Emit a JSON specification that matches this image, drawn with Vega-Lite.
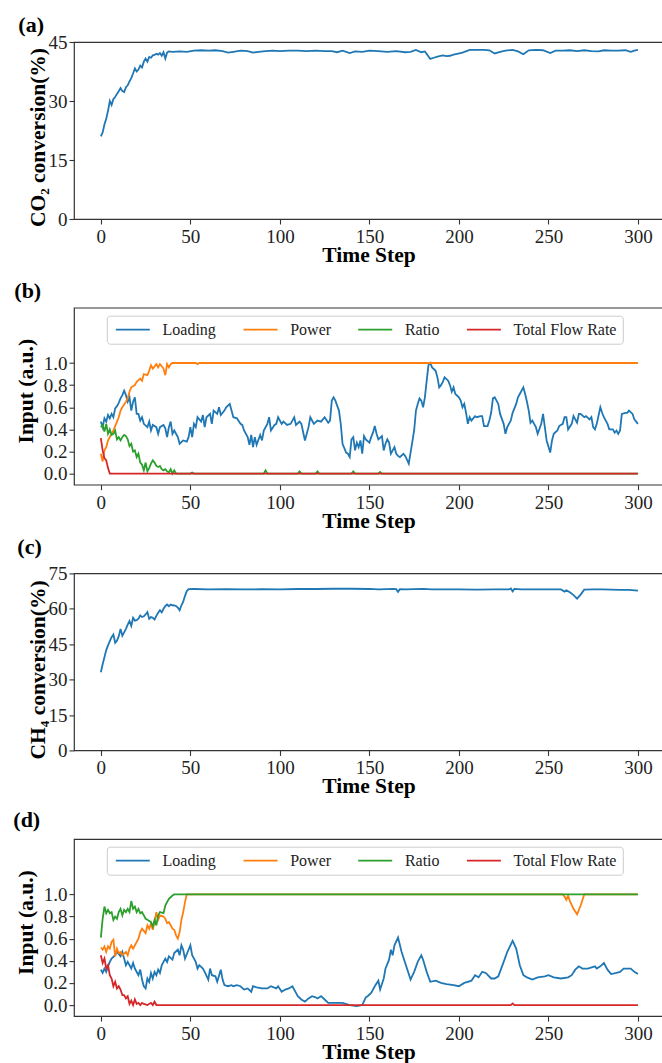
{
  "$schema": "https://vega.github.io/schema/vega-lite/v6.json",
  "background": "white",
  "padding": {"left": 12, "top": 13, "right": 0, "bottom": 0},
  "config": {
    "font": "Liberation Serif",
    "view": {"stroke": "#333333", "strokeWidth": 1.2},
    "axis": {"domain": false, "grid": false, "tickColor": "#333333", "tickSize": 5, "tickWidth": 1.1, "labelFont": "Liberation Serif", "labelFontSize": 19, "labelColor": "#222222", "labelOverlap": false, "titleFont": "Liberation Serif", "titleFontSize": 21.5, "titleFontWeight": "bold", "titleColor": "#000000"},
    "title": {"font": "Liberation Serif", "fontSize": 22, "fontWeight": "bold", "anchor": "start", "frame": "group", "baseline": "alphabetic", "color": "#000000"},
    "line": {"strokeWidth": 1.8}
  },
  "resolve": {"scale": {"color": "independent"}, "legend": {"color": "independent"}},
  "datasets": {
    "a": [{"t":0,"v":21},{"t":1,"v":22},{"t":2,"v":24},{"t":3,"v":25.5},{"t":4,"v":27.5},{"t":5,"v":30},{"t":6,"v":29},{"t":7,"v":30.5},{"t":8,"v":31},{"t":9,"v":31.8},{"t":10,"v":32.5},{"t":11,"v":33.3},{"t":12,"v":32.5},{"t":13,"v":32.3},{"t":14,"v":33.5},{"t":15,"v":34},{"t":16,"v":35},{"t":17,"v":35.8},{"t":18,"v":37},{"t":19,"v":38.3},{"t":20,"v":37.5},{"t":21,"v":38},{"t":22,"v":39},{"t":23,"v":38.5},{"t":24,"v":40},{"t":25,"v":40.8},{"t":26,"v":40},{"t":27,"v":41.2},{"t":28,"v":41},{"t":29,"v":41.6},{"t":30,"v":41.7},{"t":31,"v":42},{"t":32,"v":41.8},{"t":33,"v":42.2},{"t":34,"v":41.5},{"t":35,"v":42.4},{"t":36,"v":40.8},{"t":37,"v":42.3},{"t":38,"v":42.6},{"t":40,"v":42.5},{"t":44,"v":42.6},{"t":48,"v":42.5},{"t":52,"v":42.8},{"t":56,"v":42.9},{"t":60,"v":42.8},{"t":64,"v":42.9},{"t":68,"v":42.7},{"t":71,"v":42.3},{"t":74,"v":42.5},{"t":78,"v":42.8},{"t":82,"v":42.7},{"t":85,"v":42.3},{"t":88,"v":42.5},{"t":92,"v":42.7},{"t":96,"v":42.8},{"t":100,"v":42.7},{"t":105,"v":42.8},{"t":110,"v":42.8},{"t":115,"v":42.7},{"t":120,"v":42.8},{"t":125,"v":42.7},{"t":129,"v":42.7},{"t":132,"v":42.4},{"t":135,"v":42.8},{"t":139,"v":42.2},{"t":142,"v":42.6},{"t":146,"v":42.5},{"t":150,"v":42.8},{"t":155,"v":42.7},{"t":160,"v":42.5},{"t":165,"v":42.7},{"t":170,"v":42.4},{"t":173,"v":42.5},{"t":176,"v":43},{"t":179,"v":42.4},{"t":181,"v":42.6},{"t":184,"v":40.7},{"t":186,"v":41},{"t":188,"v":41.3},{"t":191,"v":41.6},{"t":193,"v":41.4},{"t":195,"v":41.5},{"t":197,"v":41.8},{"t":199,"v":42},{"t":202,"v":42.3},{"t":206,"v":43},{"t":210,"v":43},{"t":214,"v":43},{"t":217,"v":42.9},{"t":220,"v":42.1},{"t":223,"v":42.5},{"t":226,"v":42.8},{"t":230,"v":43},{"t":233,"v":42.6},{"t":236,"v":41.9},{"t":239,"v":42.9},{"t":243,"v":43},{"t":247,"v":42.9},{"t":251,"v":42.2},{"t":254,"v":42.8},{"t":258,"v":42.8},{"t":262,"v":42.9},{"t":266,"v":42.7},{"t":270,"v":42.9},{"t":274,"v":42.7},{"t":278,"v":42.6},{"t":281,"v":42.9},{"t":285,"v":42.8},{"t":289,"v":42.8},{"t":293,"v":42.9},{"t":296,"v":42.5},{"t":298,"v":42.8},{"t":300,"v":43}],
    "c": [{"t":0,"v":33.1},{"t":1,"v":36.5},{"t":2,"v":39.5},{"t":3,"v":42.5},{"t":4,"v":44.5},{"t":5,"v":46.3},{"t":6,"v":48},{"t":7,"v":49.1},{"t":8,"v":45.6},{"t":9,"v":46.5},{"t":10,"v":48.4},{"t":11,"v":51.5},{"t":12,"v":48.6},{"t":13,"v":50},{"t":14,"v":51.5},{"t":15,"v":53.3},{"t":16,"v":54.8},{"t":17,"v":52.8},{"t":18,"v":56.2},{"t":19,"v":55},{"t":20,"v":55.2},{"t":21,"v":55.8},{"t":22,"v":57.2},{"t":23,"v":56.5},{"t":24,"v":56.8},{"t":25,"v":57.6},{"t":26,"v":58.6},{"t":27,"v":55.8},{"t":28,"v":56.5},{"t":29,"v":56.2},{"t":30,"v":55.5},{"t":31,"v":57},{"t":32,"v":58.3},{"t":33,"v":59.4},{"t":34,"v":58.5},{"t":35,"v":60},{"t":36,"v":61.1},{"t":37,"v":61.8},{"t":38,"v":61.1},{"t":39,"v":61.8},{"t":40,"v":61.5},{"t":41,"v":61.4},{"t":42,"v":61.2},{"t":43,"v":60.5},{"t":44,"v":59.4},{"t":45,"v":61.5},{"t":46,"v":63},{"t":47,"v":65.5},{"t":48,"v":67.5},{"t":49,"v":68.3},{"t":52,"v":68.4},{"t":60,"v":68.2},{"t":70,"v":68.3},{"t":80,"v":68.2},{"t":90,"v":68.3},{"t":100,"v":68.2},{"t":110,"v":68.4},{"t":120,"v":68.4},{"t":130,"v":68.5},{"t":140,"v":68.5},{"t":150,"v":68.4},{"t":155,"v":68.2},{"t":160,"v":68.3},{"t":163,"v":68.4},{"t":165,"v":68.3},{"t":166,"v":67.2},{"t":167,"v":68.3},{"t":170,"v":68.2},{"t":175,"v":68.3},{"t":180,"v":68.4},{"t":185,"v":68.2},{"t":190,"v":68.2},{"t":200,"v":68.2},{"t":210,"v":68.1},{"t":220,"v":68.2},{"t":228,"v":68.2},{"t":229,"v":68.6},{"t":230,"v":67.4},{"t":231,"v":68.4},{"t":235,"v":68.2},{"t":240,"v":68.2},{"t":250,"v":68.2},{"t":257,"v":68.2},{"t":259,"v":67.3},{"t":260,"v":67.8},{"t":262,"v":67},{"t":264,"v":65.8},{"t":266,"v":64.3},{"t":268,"v":66},{"t":270,"v":68.1},{"t":275,"v":68.2},{"t":280,"v":68.2},{"t":285,"v":68.1},{"t":290,"v":68},{"t":295,"v":68},{"t":300,"v":67.7}],
    "bL": [{"t":0,"v":0.47},{"t":1,"v":0.42},{"t":2,"v":0.5},{"t":3,"v":0.47},{"t":4,"v":0.53},{"t":5,"v":0.5},{"t":6,"v":0.54},{"t":7,"v":0.51},{"t":8,"v":0.59},{"t":9,"v":0.61},{"t":10,"v":0.64},{"t":11,"v":0.68},{"t":12,"v":0.71},{"t":13,"v":0.75},{"t":14,"v":0.71},{"t":15,"v":0.65},{"t":16,"v":0.69},{"t":17,"v":0.57},{"t":18,"v":0.65},{"t":19,"v":0.69},{"t":20,"v":0.54},{"t":21,"v":0.54},{"t":22,"v":0.48},{"t":23,"v":0.51},{"t":24,"v":0.45},{"t":26,"v":0.42},{"t":27,"v":0.47},{"t":28,"v":0.39},{"t":29,"v":0.44},{"t":31,"v":0.42},{"t":32,"v":0.36},{"t":33,"v":0.42},{"t":35,"v":0.44},{"t":36,"v":0.41},{"t":37,"v":0.33},{"t":38,"v":0.42},{"t":39,"v":0.47},{"t":40,"v":0.36},{"t":41,"v":0.39},{"t":43,"v":0.33},{"t":44,"v":0.27},{"t":46,"v":0.3},{"t":48,"v":0.29},{"t":49,"v":0.33},{"t":50,"v":0.42},{"t":51,"v":0.33},{"t":52,"v":0.45},{"t":53,"v":0.42},{"t":54,"v":0.51},{"t":56,"v":0.47},{"t":57,"v":0.53},{"t":58,"v":0.42},{"t":59,"v":0.51},{"t":61,"v":0.54},{"t":62,"v":0.45},{"t":63,"v":0.57},{"t":65,"v":0.54},{"t":66,"v":0.6},{"t":67,"v":0.53},{"t":69,"v":0.57},{"t":70,"v":0.6},{"t":72,"v":0.63},{"t":73,"v":0.57},{"t":74,"v":0.51},{"t":76,"v":0.5},{"t":78,"v":0.45},{"t":79,"v":0.44},{"t":80,"v":0.39},{"t":82,"v":0.33},{"t":83,"v":0.26},{"t":84,"v":0.35},{"t":85,"v":0.24},{"t":86,"v":0.33},{"t":87,"v":0.26},{"t":89,"v":0.35},{"t":90,"v":0.3},{"t":91,"v":0.39},{"t":93,"v":0.45},{"t":94,"v":0.51},{"t":95,"v":0.39},{"t":97,"v":0.44},{"t":98,"v":0.45},{"t":99,"v":0.51},{"t":101,"v":0.45},{"t":102,"v":0.47},{"t":104,"v":0.44},{"t":106,"v":0.45},{"t":108,"v":0.51},{"t":109,"v":0.44},{"t":111,"v":0.47},{"t":112,"v":0.45},{"t":114,"v":0.3},{"t":116,"v":0.42},{"t":117,"v":0.51},{"t":119,"v":0.45},{"t":121,"v":0.48},{"t":123,"v":0.47},{"t":125,"v":0.51},{"t":127,"v":0.46},{"t":128,"v":0.48},{"t":129,"v":0.66},{"t":130,"v":0.69},{"t":131,"v":0.66},{"t":133,"v":0.57},{"t":134,"v":0.45},{"t":135,"v":0.27},{"t":137,"v":0.19},{"t":138,"v":0.18},{"t":139,"v":0.15},{"t":140,"v":0.31},{"t":141,"v":0.33},{"t":142,"v":0.21},{"t":143,"v":0.28},{"t":144,"v":0.24},{"t":145,"v":0.3},{"t":146,"v":0.18},{"t":147,"v":0.34},{"t":148,"v":0.31},{"t":150,"v":0.28},{"t":151,"v":0.33},{"t":152,"v":0.37},{"t":153,"v":0.43},{"t":154,"v":0.36},{"t":155,"v":0.31},{"t":157,"v":0.34},{"t":158,"v":0.21},{"t":159,"v":0.27},{"t":160,"v":0.31},{"t":161,"v":0.28},{"t":162,"v":0.18},{"t":164,"v":0.24},{"t":165,"v":0.18},{"t":166,"v":0.16},{"t":167,"v":0.15},{"t":169,"v":0.18},{"t":170,"v":0.16},{"t":172,"v":0.09},{"t":173,"v":0.19},{"t":175,"v":0.39},{"t":176,"v":0.57},{"t":177,"v":0.63},{"t":178,"v":0.68},{"t":179,"v":0.66},{"t":180,"v":0.6},{"t":181,"v":0.69},{"t":182,"v":0.84},{"t":183,"v":0.98},{"t":184,"v":1.0},{"t":185,"v":0.96},{"t":187,"v":0.93},{"t":188,"v":0.87},{"t":189,"v":0.78},{"t":190,"v":0.8},{"t":191,"v":0.83},{"t":192,"v":0.87},{"t":194,"v":0.84},{"t":195,"v":0.8},{"t":196,"v":0.74},{"t":197,"v":0.78},{"t":198,"v":0.72},{"t":200,"v":0.69},{"t":201,"v":0.66},{"t":202,"v":0.6},{"t":203,"v":0.63},{"t":204,"v":0.55},{"t":205,"v":0.45},{"t":206,"v":0.51},{"t":207,"v":0.48},{"t":209,"v":0.52},{"t":210,"v":0.51},{"t":212,"v":0.52},{"t":213,"v":0.52},{"t":214,"v":0.43},{"t":216,"v":0.43},{"t":217,"v":0.48},{"t":218,"v":0.55},{"t":219,"v":0.68},{"t":220,"v":0.69},{"t":222,"v":0.63},{"t":223,"v":0.54},{"t":225,"v":0.45},{"t":226,"v":0.36},{"t":227,"v":0.42},{"t":229,"v":0.48},{"t":230,"v":0.55},{"t":232,"v":0.63},{"t":233,"v":0.69},{"t":234,"v":0.72},{"t":236,"v":0.78},{"t":237,"v":0.72},{"t":238,"v":0.65},{"t":239,"v":0.57},{"t":240,"v":0.46},{"t":241,"v":0.48},{"t":243,"v":0.42},{"t":244,"v":0.36},{"t":246,"v":0.45},{"t":247,"v":0.54},{"t":248,"v":0.42},{"t":249,"v":0.3},{"t":251,"v":0.19},{"t":252,"v":0.3},{"t":253,"v":0.36},{"t":255,"v":0.39},{"t":256,"v":0.43},{"t":258,"v":0.45},{"t":259,"v":0.51},{"t":260,"v":0.51},{"t":261,"v":0.4},{"t":263,"v":0.45},{"t":264,"v":0.52},{"t":266,"v":0.46},{"t":267,"v":0.54},{"t":268,"v":0.54},{"t":270,"v":0.51},{"t":271,"v":0.52},{"t":273,"v":0.49},{"t":274,"v":0.51},{"t":275,"v":0.42},{"t":276,"v":0.4},{"t":277,"v":0.45},{"t":279,"v":0.6},{"t":280,"v":0.55},{"t":281,"v":0.51},{"t":283,"v":0.45},{"t":284,"v":0.4},{"t":286,"v":0.4},{"t":287,"v":0.37},{"t":288,"v":0.39},{"t":289,"v":0.36},{"t":290,"v":0.39},{"t":291,"v":0.54},{"t":293,"v":0.55},{"t":294,"v":0.55},{"t":295,"v":0.57},{"t":297,"v":0.54},{"t":298,"v":0.49},{"t":300,"v":0.45}],
    "bP": [{"t":0,"v":0.18},{"t":1,"v":0.11},{"t":2,"v":0.21},{"t":3,"v":0.24},{"t":4,"v":0.3},{"t":6,"v":0.36},{"t":7,"v":0.39},{"t":9,"v":0.47},{"t":10,"v":0.51},{"t":11,"v":0.57},{"t":12,"v":0.6},{"t":14,"v":0.65},{"t":15,"v":0.68},{"t":16,"v":0.74},{"t":17,"v":0.78},{"t":19,"v":0.8},{"t":20,"v":0.83},{"t":22,"v":0.86},{"t":23,"v":0.84},{"t":24,"v":0.9},{"t":26,"v":0.89},{"t":27,"v":0.93},{"t":28,"v":0.98},{"t":29,"v":0.95},{"t":31,"v":0.99},{"t":32,"v":0.96},{"t":33,"v":0.99},{"t":35,"v":0.95},{"t":36,"v":0.89},{"t":37,"v":0.99},{"t":38,"v":0.96},{"t":39,"v":0.99},{"t":40,"v":1.0},{"t":53,"v":1.0},{"t":54,"v":0.99},{"t":55,"v":1.0},{"t":300,"v":1.0}],
    "bR": [{"t":0,"v":0.42},{"t":1,"v":0.44},{"t":2,"v":0.38},{"t":3,"v":0.45},{"t":4,"v":0.36},{"t":5,"v":0.4},{"t":6,"v":0.35},{"t":7,"v":0.36},{"t":8,"v":0.39},{"t":9,"v":0.31},{"t":10,"v":0.33},{"t":11,"v":0.3},{"t":12,"v":0.33},{"t":13,"v":0.35},{"t":14,"v":0.34},{"t":15,"v":0.31},{"t":16,"v":0.25},{"t":17,"v":0.27},{"t":18,"v":0.2},{"t":19,"v":0.21},{"t":20,"v":0.15},{"t":21,"v":0.18},{"t":22,"v":0.1},{"t":23,"v":0.08},{"t":24,"v":0.03},{"t":25,"v":0.1},{"t":26,"v":0.02},{"t":27,"v":0.05},{"t":28,"v":0.09},{"t":29,"v":0.12},{"t":30,"v":0.1},{"t":31,"v":0.07},{"t":32,"v":0.06},{"t":33,"v":0.07},{"t":34,"v":0.04},{"t":35,"v":0.03},{"t":36,"v":0.04},{"t":37,"v":0.02},{"t":38,"v":0.01},{"t":39,"v":0.04},{"t":40,"v":0},{"t":41,"v":0.03},{"t":42,"v":0},{"t":50,"v":0},{"t":51,"v":0.01},{"t":52,"v":0},{"t":91,"v":0},{"t":92,"v":0.03},{"t":93,"v":0},{"t":110,"v":0},{"t":111,"v":0.02},{"t":112,"v":0},{"t":120,"v":0},{"t":121,"v":0.02},{"t":122,"v":0},{"t":140,"v":0},{"t":141,"v":0.02},{"t":142,"v":0},{"t":155,"v":0},{"t":156,"v":0.015},{"t":157,"v":0},{"t":300,"v":0}],
    "bF": [{"t":0,"v":0.32},{"t":1,"v":0.21},{"t":2,"v":0.14},{"t":3,"v":0.12},{"t":4,"v":0.05},{"t":5,"v":0},{"t":300,"v":0}],
    "dL": [{"t":0,"v":0.32},{"t":1,"v":0.29},{"t":2,"v":0.33},{"t":3,"v":0.3},{"t":4,"v":0.35},{"t":5,"v":0.39},{"t":6,"v":0.42},{"t":8,"v":0.45},{"t":9,"v":0.48},{"t":11,"v":0.44},{"t":12,"v":0.48},{"t":13,"v":0.42},{"t":14,"v":0.36},{"t":15,"v":0.39},{"t":17,"v":0.33},{"t":18,"v":0.38},{"t":19,"v":0.33},{"t":21,"v":0.27},{"t":22,"v":0.32},{"t":23,"v":0.23},{"t":24,"v":0.17},{"t":25,"v":0.15},{"t":26,"v":0.24},{"t":27,"v":0.21},{"t":28,"v":0.29},{"t":29,"v":0.24},{"t":30,"v":0.3},{"t":31,"v":0.27},{"t":32,"v":0.32},{"t":33,"v":0.29},{"t":34,"v":0.36},{"t":35,"v":0.39},{"t":36,"v":0.42},{"t":37,"v":0.39},{"t":38,"v":0.44},{"t":40,"v":0.41},{"t":41,"v":0.47},{"t":43,"v":0.5},{"t":44,"v":0.45},{"t":45,"v":0.54},{"t":46,"v":0.5},{"t":47,"v":0.42},{"t":49,"v":0.5},{"t":50,"v":0.54},{"t":51,"v":0.45},{"t":53,"v":0.39},{"t":54,"v":0.33},{"t":55,"v":0.36},{"t":57,"v":0.33},{"t":58,"v":0.3},{"t":60,"v":0.23},{"t":61,"v":0.33},{"t":62,"v":0.27},{"t":64,"v":0.26},{"t":65,"v":0.21},{"t":67,"v":0.32},{"t":68,"v":0.23},{"t":69,"v":0.18},{"t":71,"v":0.17},{"t":73,"v":0.18},{"t":74,"v":0.17},{"t":76,"v":0.18},{"t":78,"v":0.17},{"t":80,"v":0.14},{"t":82,"v":0.15},{"t":84,"v":0.12},{"t":85,"v":0.17},{"t":87,"v":0.16},{"t":90,"v":0.15},{"t":93,"v":0.15},{"t":95,"v":0.17},{"t":98,"v":0.15},{"t":99,"v":0.17},{"t":101,"v":0.12},{"t":103,"v":0.14},{"t":105,"v":0.15},{"t":107,"v":0.17},{"t":109,"v":0.11},{"t":110,"v":0.08},{"t":112,"v":0.05},{"t":114,"v":0.03},{"t":116,"v":0.06},{"t":118,"v":0.08},{"t":120,"v":0.07},{"t":121,"v":0.06},{"t":123,"v":0.08},{"t":125,"v":0.05},{"t":127,"v":0.02},{"t":132,"v":0.02},{"t":135,"v":0.02},{"t":139,"v":0},{"t":143,"v":-0.01},{"t":146,"v":0},{"t":148,"v":0.07},{"t":149,"v":0.08},{"t":151,"v":0.11},{"t":153,"v":0.17},{"t":155,"v":0.22},{"t":156,"v":0.14},{"t":158,"v":0.24},{"t":159,"v":0.33},{"t":161,"v":0.41},{"t":162,"v":0.5},{"t":163,"v":0.45},{"t":164,"v":0.54},{"t":166,"v":0.61},{"t":168,"v":0.48},{"t":171,"v":0.33},{"t":173,"v":0.23},{"t":175,"v":0.3},{"t":177,"v":0.39},{"t":179,"v":0.45},{"t":180,"v":0.41},{"t":182,"v":0.3},{"t":184,"v":0.21},{"t":187,"v":0.22},{"t":190,"v":0.2},{"t":193,"v":0.19},{"t":197,"v":0.18},{"t":200,"v":0.17},{"t":203,"v":0.2},{"t":205,"v":0.21},{"t":207,"v":0.22},{"t":209,"v":0.27},{"t":211,"v":0.25},{"t":213,"v":0.3},{"t":215,"v":0.29},{"t":218,"v":0.24},{"t":220,"v":0.24},{"t":222,"v":0.26},{"t":225,"v":0.39},{"t":227,"v":0.48},{"t":230,"v":0.58},{"t":232,"v":0.51},{"t":234,"v":0.36},{"t":236,"v":0.27},{"t":238,"v":0.25},{"t":241,"v":0.23},{"t":244,"v":0.25},{"t":248,"v":0.26},{"t":250,"v":0.27},{"t":253,"v":0.25},{"t":257,"v":0.24},{"t":261,"v":0.25},{"t":263,"v":0.27},{"t":265,"v":0.32},{"t":267,"v":0.35},{"t":269,"v":0.33},{"t":272,"v":0.33},{"t":276,"v":0.35},{"t":277,"v":0.33},{"t":279,"v":0.35},{"t":281,"v":0.38},{"t":283,"v":0.32},{"t":285,"v":0.28},{"t":288,"v":0.29},{"t":290,"v":0.3},{"t":292,"v":0.33},{"t":294,"v":0.33},{"t":296,"v":0.33},{"t":298,"v":0.3},{"t":300,"v":0.28}],
    "dP": [{"t":0,"v":0.52},{"t":1,"v":0.5},{"t":2,"v":0.53},{"t":3,"v":0.48},{"t":4,"v":0.53},{"t":5,"v":0.51},{"t":6,"v":0.57},{"t":7,"v":0.59},{"t":8,"v":0.44},{"t":9,"v":0.51},{"t":10,"v":0.47},{"t":11,"v":0.48},{"t":12,"v":0.45},{"t":14,"v":0.48},{"t":15,"v":0.45},{"t":16,"v":0.51},{"t":17,"v":0.54},{"t":18,"v":0.51},{"t":20,"v":0.57},{"t":21,"v":0.6},{"t":22,"v":0.66},{"t":23,"v":0.69},{"t":25,"v":0.65},{"t":26,"v":0.72},{"t":27,"v":0.69},{"t":28,"v":0.74},{"t":29,"v":0.68},{"t":30,"v":0.75},{"t":31,"v":0.84},{"t":32,"v":0.77},{"t":33,"v":0.81},{"t":35,"v":0.8},{"t":36,"v":0.78},{"t":37,"v":0.74},{"t":38,"v":0.75},{"t":40,"v":0.69},{"t":41,"v":0.68},{"t":42,"v":0.63},{"t":43,"v":0.6},{"t":44,"v":0.66},{"t":45,"v":0.77},{"t":46,"v":0.84},{"t":47,"v":0.93},{"t":48,"v":1.0},{"t":258,"v":1.0},{"t":259,"v":0.98},{"t":260,"v":0.95},{"t":261,"v":0.99},{"t":262,"v":0.94},{"t":264,"v":0.87},{"t":266,"v":0.82},{"t":268,"v":0.9},{"t":270,"v":1.0},{"t":300,"v":1.0}],
    "dR": [{"t":0,"v":0.61},{"t":1,"v":0.78},{"t":2,"v":0.89},{"t":3,"v":0.83},{"t":4,"v":0.86},{"t":5,"v":0.83},{"t":6,"v":0.84},{"t":7,"v":0.77},{"t":8,"v":0.8},{"t":9,"v":0.78},{"t":10,"v":0.84},{"t":11,"v":0.87},{"t":12,"v":0.81},{"t":13,"v":0.86},{"t":14,"v":0.84},{"t":15,"v":0.87},{"t":16,"v":0.84},{"t":17,"v":0.94},{"t":18,"v":0.87},{"t":19,"v":0.89},{"t":20,"v":0.84},{"t":21,"v":0.87},{"t":22,"v":0.83},{"t":23,"v":0.84},{"t":24,"v":0.81},{"t":25,"v":0.78},{"t":26,"v":0.77},{"t":28,"v":0.75},{"t":29,"v":0.71},{"t":30,"v":0.77},{"t":31,"v":0.72},{"t":32,"v":0.81},{"t":33,"v":0.84},{"t":35,"v":0.83},{"t":36,"v":0.9},{"t":37,"v":0.93},{"t":38,"v":0.96},{"t":40,"v":0.99},{"t":41,"v":1.0},{"t":300,"v":1.0}],
    "dF": [{"t":0,"v":0.45},{"t":1,"v":0.38},{"t":2,"v":0.42},{"t":3,"v":0.33},{"t":4,"v":0.36},{"t":5,"v":0.27},{"t":6,"v":0.24},{"t":7,"v":0.17},{"t":8,"v":0.21},{"t":9,"v":0.15},{"t":10,"v":0.17},{"t":11,"v":0.14},{"t":12,"v":0.09},{"t":13,"v":0.09},{"t":14,"v":0.06},{"t":15,"v":0.08},{"t":16,"v":0.01},{"t":17,"v":0.04},{"t":18,"v":0},{"t":19,"v":0.05},{"t":20,"v":0.01},{"t":21,"v":0.02},{"t":22,"v":0},{"t":23,"v":0.02},{"t":24,"v":0.01},{"t":26,"v":0},{"t":28,"v":0.02},{"t":29,"v":0},{"t":30,"v":0.03},{"t":31,"v":0},{"t":229,"v":0},{"t":230,"v":0.015},{"t":231,"v":0},{"t":300,"v":0}]
  },
  "spacing": 88.7,
  "bounds": "flush",
  "vconcat": [
    {
      "title": {"text": "(a)", "dx": -55.7, "offset": -3.6},
      "width": 589, "height": 177,
      "data": {"name": "a"},
      "mark": {"type": "line", "color": "#1f77b4", "strokeWidth": 1.8},
      "encoding": {
        "x": {"field": "t", "type": "quantitative", "scale": {"domain": [-15, 314], "nice": false, "zero": false}, "axis": {"values": [0, 50, 100, 150, 200, 250, 300], "title": "Time Step", "titleY": 42.5, "titleBaseline": "alphabetic", "labelPadding": 3.5, "labelFlush": false}},
        "y": {"field": "v", "type": "quantitative", "scale": {"domain": [0, 45], "nice": false}, "axis": {"values": [0, 15, 30, 45], "title": "CO₂ conversion(%)", "titleX": -30, "titleY": 95, "titleBaseline": "alphabetic", "labelPadding": 2}}
      }
    },
    {
      "title": {"text": "(b)", "dx": -59.7, "offset": 5.2},
      "width": 589, "height": 177,
      "encoding": {
        "x": {"field": "t", "type": "quantitative", "scale": {"domain": [-15, 314], "nice": false, "zero": false}, "axis": {"values": [0, 50, 100, 150, 200, 250, 300], "title": "Time Step", "titleY": 42.5, "titleBaseline": "alphabetic", "labelPadding": 3.5, "labelFlush": false}},
        "y": {"field": "v", "type": "quantitative", "scale": {"domain": [-0.1, 1.5], "nice": false, "zero": false}, "axis": {"values": [0, 0.2, 0.4, 0.6, 0.8, 1.0], "format": ".1f", "title": "Input (a.u.)", "titleX": -41.7, "titleY": 83, "titleBaseline": "alphabetic", "labelPadding": 2}}
      },
      "layer": [
        {"data": {"name": "bL"}, "mark": {"type": "line", "strokeWidth": 1.8}, "encoding": {"color": {"datum": "Loading", "type": "nominal", "scale": {"domain": ["Loading", "Power", "Ratio", "Total Flow Rate"], "range": ["#1f77b4", "#ff7f0e", "#2ca02c", "#d62728"]}, "legend": {"title": null, "orient": "none", "legendX": 32.8, "legendY": 8, "direction": "horizontal", "columns": 4, "symbolType": "M-1,0H5.8", "symbolSize": 100, "symbolStrokeWidth": 1.8, "labelFont": "Liberation Serif", "labelFontSize": 16, "labelColor": "#222222", "labelOffset": 33.7, "columnPadding": 22.7, "padding": 6, "strokeColor": "#cccccc", "fillColor": "rgba(255,255,255,0.8)", "cornerRadius": 3}}}},
        {"data": {"name": "bP"}, "mark": {"type": "line", "strokeWidth": 1.8}, "encoding": {"color": {"datum": "Power", "type": "nominal"}}},
        {"data": {"name": "bR"}, "mark": {"type": "line", "strokeWidth": 1.8}, "encoding": {"color": {"datum": "Ratio", "type": "nominal"}}},
        {"data": {"name": "bF"}, "mark": {"type": "line", "strokeWidth": 1.8}, "encoding": {"color": {"datum": "Total Flow Rate", "type": "nominal"}}}
      ]
    },
    {
      "title": {"text": "(c)", "dx": -56.7, "offset": 5.5},
      "width": 589, "height": 177,
      "data": {"name": "c"},
      "mark": {"type": "line", "color": "#1f77b4", "strokeWidth": 1.8},
      "encoding": {
        "x": {"field": "t", "type": "quantitative", "scale": {"domain": [-15, 314], "nice": false, "zero": false}, "axis": {"values": [0, 50, 100, 150, 200, 250, 300], "title": "Time Step", "titleY": 42.5, "titleBaseline": "alphabetic", "labelPadding": 3.5, "labelFlush": false}},
        "y": {"field": "v", "type": "quantitative", "scale": {"domain": [0, 75], "nice": false}, "axis": {"values": [0, 15, 30, 45, 60, 75], "title": "CH₄ conversion(%)", "titleX": -30, "titleY": 96, "titleBaseline": "alphabetic", "labelPadding": 2}}
      }
    },
    {
      "title": {"text": "(d)", "dx": -60.7, "offset": 7.2},
      "width": 589, "height": 177,
      "encoding": {
        "x": {"field": "t", "type": "quantitative", "scale": {"domain": [-15, 314], "nice": false, "zero": false}, "axis": {"values": [0, 50, 100, 150, 200, 250, 300], "title": "Time Step", "titleY": 42.5, "titleBaseline": "alphabetic", "labelPadding": 3.5, "labelFlush": false}},
        "y": {"field": "v", "type": "quantitative", "scale": {"domain": [-0.1, 1.5], "nice": false, "zero": false}, "axis": {"values": [0, 0.2, 0.4, 0.6, 0.8, 1.0], "format": ".1f", "title": "Input (a.u.)", "titleX": -42, "titleY": 83, "titleBaseline": "alphabetic", "labelPadding": 2}}
      },
      "layer": [
        {"data": {"name": "dL"}, "mark": {"type": "line", "strokeWidth": 1.8}, "encoding": {"color": {"datum": "Loading", "type": "nominal", "scale": {"domain": ["Loading", "Power", "Ratio", "Total Flow Rate"], "range": ["#1f77b4", "#ff7f0e", "#2ca02c", "#d62728"]}, "legend": {"title": null, "orient": "none", "legendX": 32.8, "legendY": 7.6, "direction": "horizontal", "columns": 4, "symbolType": "M-1,0H5.8", "symbolSize": 100, "symbolStrokeWidth": 1.8, "labelFont": "Liberation Serif", "labelFontSize": 16, "labelColor": "#222222", "labelOffset": 33.7, "columnPadding": 22.7, "padding": 6, "strokeColor": "#cccccc", "fillColor": "rgba(255,255,255,0.8)", "cornerRadius": 3}}}},
        {"data": {"name": "dP"}, "mark": {"type": "line", "strokeWidth": 1.8}, "encoding": {"color": {"datum": "Power", "type": "nominal"}}},
        {"data": {"name": "dR"}, "mark": {"type": "line", "strokeWidth": 1.8}, "encoding": {"color": {"datum": "Ratio", "type": "nominal"}}},
        {"data": {"name": "dF"}, "mark": {"type": "line", "strokeWidth": 1.8}, "encoding": {"color": {"datum": "Total Flow Rate", "type": "nominal"}}}
      ]
    }
  ]
}
